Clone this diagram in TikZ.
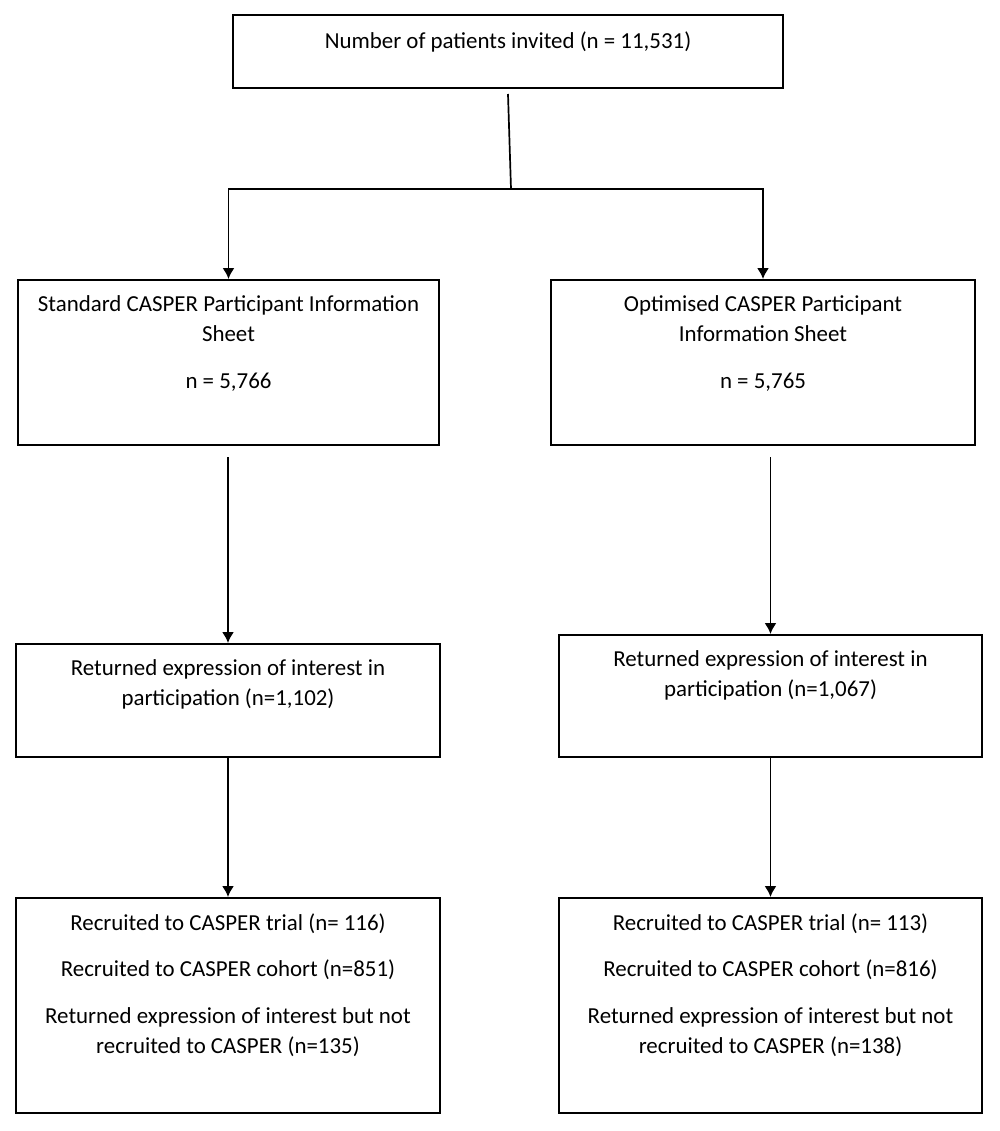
\documentclass[tikz,border=0pt]{standalone}
\usepackage{fontspec}
\setmainfont{Carlito}
\usetikzlibrary{positioning,arrows.meta}
\tikzset{%
box/.style={draw,line width=1pt,inner sep=0pt},
txt/.style={inner sep=0pt,align=center,font=\fontsize{11.45pt}{15pt}\selectfont},
link/.style={line width=0.85pt},
}

\begin{document}
\begin{tikzpicture}[x=0.5pt,y=-0.5pt,>={Latex[length=5.5pt,width=6pt]}]
    \useasboundingbox (0,0) rectangle (1000,1131);
    % boxes
    \node[box,minimum width=275pt,minimum height=36.5pt] (T) at (508,51.5) {};
    \node[box,minimum width=210.5pt,minimum height=82.5pt] (S) at (228.5,362.5) {};
    \node[box,minimum width=212pt,minimum height=82.5pt] (O) at (763,362.5) {};
    \node[box,minimum width=212pt,minimum height=56.5pt] (SR) at (228,700.5) {};
    \node[box,minimum width=211.5pt,minimum height=61pt] (OR) at (770.5,696) {};
    \node[box,minimum width=212pt,minimum height=107.5pt] (ST) at (228,1005.5) {};
    \node[box,minimum width=211.5pt,minimum height=107.5pt] (OT) at (770.5,1005.5) {};
    % texts
    \node[txt,below=8.5pt of T.north] (Tt) {Number of patients invited (n = 11,531)};
    \node[txt,below=8pt of S.north] (St) {Standard CASPER Participant Information\\Sheet\\[8.35pt]n = 5,766};
    \node[txt,below=8pt of O.north] (Ot) {Optimised CASPER Participant\\Information Sheet\\[8.35pt]n = 5,765};
    \node[txt,below=8pt of SR.north] (SRt) {Returned expression of interest in\\participation (n=1,102)};
    \node[txt,below=8pt of OR.north] (ORt) {Returned expression of interest in\\participation (n=1,067)};
    \node[txt,below=8pt of ST.north] (STt) {Recruited to CASPER trial (n= 116)\\[8.35pt]Recruited to CASPER cohort (n=851)\\[8.35pt]Returned expression of interest but not\\recruited to CASPER (n=135)};
    \node[txt,below=8pt of OT.north] (OTt) {Recruited to CASPER trial (n= 113)\\[8.35pt]Recruited to CASPER cohort (n=816)\\[8.35pt]Returned expression of interest but not\\recruited to CASPER (n=138)};
    % connectors
    \coordinate (J) at (511,189);
    \draw[link] ([yshift=-2.5pt]T.south) -- (J);
    \draw[link,->] (J) -| (S.north);
    \draw[link,->] (J) -| (O.north);
    \draw[link,->,shorten <=5.5pt] (S.south -| SR.north) -- (SR.north);
    \draw[link,->,shorten <=5.5pt] (O.south -| OR.north) -- (OR.north);
    \draw[link,->] (SR) -- (ST);
    \draw[link,->] (OR) -- (OT);
\end{tikzpicture}
\end{document}
